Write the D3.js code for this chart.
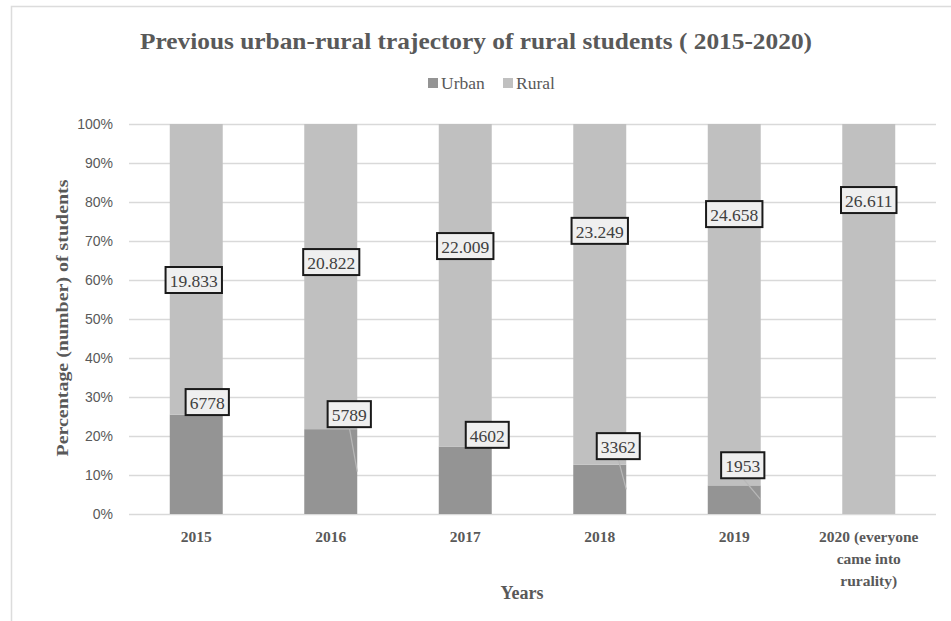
<!DOCTYPE html>
<html><head><meta charset="utf-8">
<script src="https://cdn.jsdelivr.net/npm/d3@7"></script>
<style>body{margin:0;background:#fff}svg{display:block}</style>
</head><body>
<svg id="c" width="951" height="621"></svg>
<script>
const categories = ["2015","2016","2017","2018","2019","2020 (everyone|came into|rurality)"];
const urban = [6778, 5789, 4602, 3362, 1953, 0];
const rural = [19833, 20822, 22009, 23249, 24658, 26611];
const ruralText = ["19.833","20.822","22.009","23.249","24.658","26.611"];
const urbanText = ["6778","5789","4602","3362","1953",""];
const yTicks = [0,0.1,0.2,0.3,0.4,0.5,0.6,0.7,0.8,0.9,1];
const seriesNames = ["Urban","Rural"];

// layout of manually-placed data labels (fraction of axis, px offset)
const ruralLabelAt = [0.600, 0.646, 0.687, 0.726, 0.769, 0.805];
const ruralLabelDx = [-2.5, 0.5, 0, 0, 0, 0];
const urbanLabelAt = [0.287, 0.256, 0.203, 0.174, 0.125];
const urbanLabelDx = [11, 18.5, 22, 18.5, 8.5];
const urbanLeader = [false, true, false, true, true];

const svg = d3.select("#c");
const serif = "'Liberation Serif','Times New Roman',serif";
const sans = "'Liberation Sans',Arial,sans-serif";
const txt = "#595959";
const cUrban = "#949494", cRural = "#c0c0c0";

// chart frame
svg.append("path").attr("d","M11.5,621 V6.5 H951").attr("fill","none").attr("stroke","#dcdcdc").attr("stroke-width",1.5);

const x = d3.scaleBand().domain(categories).range([129, 936]).paddingInner(0.606).paddingOuter(0.303);
const y = d3.scaleLinear().domain([0,1]).range([514, 124]);

const data = categories.map((c,i)=>{const t=urban[i]+rural[i];return {c,i,u:urban[i]/t,r:rural[i]/t};});

// gridlines
svg.append("g").selectAll("line").data(yTicks).join("line")
  .attr("x1",129).attr("x2",936).attr("y1",d=>y(d)+0.5).attr("y2",d=>y(d)+0.5)
  .attr("stroke","#d9d9d9").attr("stroke-width",1.3);

// y axis labels
const yAxis = d3.axisLeft(y).tickValues(yTicks).tickFormat(d3.format(".0%")).tickSize(0).tickPadding(0);
const ga = svg.append("g").attr("transform","translate(113,0)").call(yAxis);
ga.select(".domain").remove();
ga.selectAll("text").attr("font-family",sans).attr("font-size",14).attr("fill",txt);

// bars
const g = svg.append("g");
g.selectAll("rect.u").data(data).join("rect").attr("class","u")
  .attr("x",d=>x(d.c)).attr("width",x.bandwidth())
  .attr("y",d=>y(d.u)).attr("height",d=>y(0)-y(d.u)).attr("fill",cUrban);
g.selectAll("rect.r").data(data).join("rect").attr("class","r")
  .attr("x",d=>x(d.c)).attr("width",x.bandwidth())
  .attr("y",d=>y(d.u+d.r)).attr("height",d=>y(d.u)-y(d.u+d.r)).attr("fill",cRural);

// x labels
const xl = svg.append("g");
categories.forEach((c,i)=>{
  const lines = c.split("|");
  const t = xl.append("text").attr("x",x(c)+x.bandwidth()/2).attr("y",542)
    .attr("text-anchor","middle").attr("font-family",serif).attr("font-weight","bold")
    .attr("font-size",15.5).attr("fill",txt);
  lines.forEach((l,k)=>t.append("tspan").attr("x",x(c)+x.bandwidth()/2).attr("dy",k?22:0).text(l));
});

// label helper
function box(cx, cy, s){
  const gg = svg.append("g");
  const r = gg.append("rect");
  const t = gg.append("text").attr("x",cx).attr("y",cy+1).attr("text-anchor","middle")
    .attr("dominant-baseline","central").attr("font-family",serif).attr("font-size",17.5)
    .attr("fill","#404040").text(s);
  const b = t.node().getBBox();
  const w = b.width+8, h = 26;
  r.attr("x",cx-w/2).attr("y",cy-h/2).attr("width",w).attr("height",h)
   .attr("fill","#efefef").attr("stroke","#1a1a1a").attr("stroke-width",2);
  return {bottom: cy+h/2};
}

// urban leaders + labels
data.slice(0,5).forEach((d,i)=>{
  const cx = x(d.c)+x.bandwidth()/2+urbanLabelDx[i];
  const cy = y(urbanLabelAt[i]);
  if(urbanLeader[i]){
    svg.append("line").attr("x1",cx).attr("y1",cy+13).attr("x2",x(d.c)+x.bandwidth())
      .attr("y2",y(d.u/2)).attr("stroke","#b8b8b8").attr("stroke-width",1.2);
  }
  box(cx, cy, urbanText[i]);
});
data.forEach((d,i)=>{
  box(x(d.c)+x.bandwidth()/2+ruralLabelDx[i], y(ruralLabelAt[i]), ruralText[i]);
});

// title
svg.append("text").attr("x",476).attr("y",49).attr("text-anchor","middle")
  .attr("font-family",serif).attr("font-weight","bold").attr("font-size",23).attr("fill",txt)
  .attr("textLength",672).attr("lengthAdjust","spacingAndGlyphs")
  .text("Previous urban-rural trajectory of rural students ( 2015-2020)");

// legend
const lg = svg.append("g");
const legX = [428, 503], legCol=[cUrban,cRural];
seriesNames.forEach((n,i)=>{
  lg.append("rect").attr("x",legX[i]).attr("y",78).attr("width",10).attr("height",10).attr("fill",legCol[i]);
  lg.append("text").attr("x",legX[i]+13).attr("y",89).attr("font-family",serif)
    .attr("font-size",17.5).attr("fill",txt).text(n);
});

// axis titles
svg.append("text").attr("transform","translate(68,318) rotate(-90)").attr("text-anchor","middle")
  .attr("font-family",serif).attr("font-weight","bold").attr("font-size",17).attr("fill",txt)
  .attr("textLength",277).attr("lengthAdjust","spacingAndGlyphs")
  .text("Percentage (number) of students");
svg.append("text").attr("x",522).attr("y",599).attr("text-anchor","middle")
  .attr("font-family",serif).attr("font-weight","bold").attr("font-size",18).attr("fill",txt)
  .text("Years");
</script>
</body></html>
